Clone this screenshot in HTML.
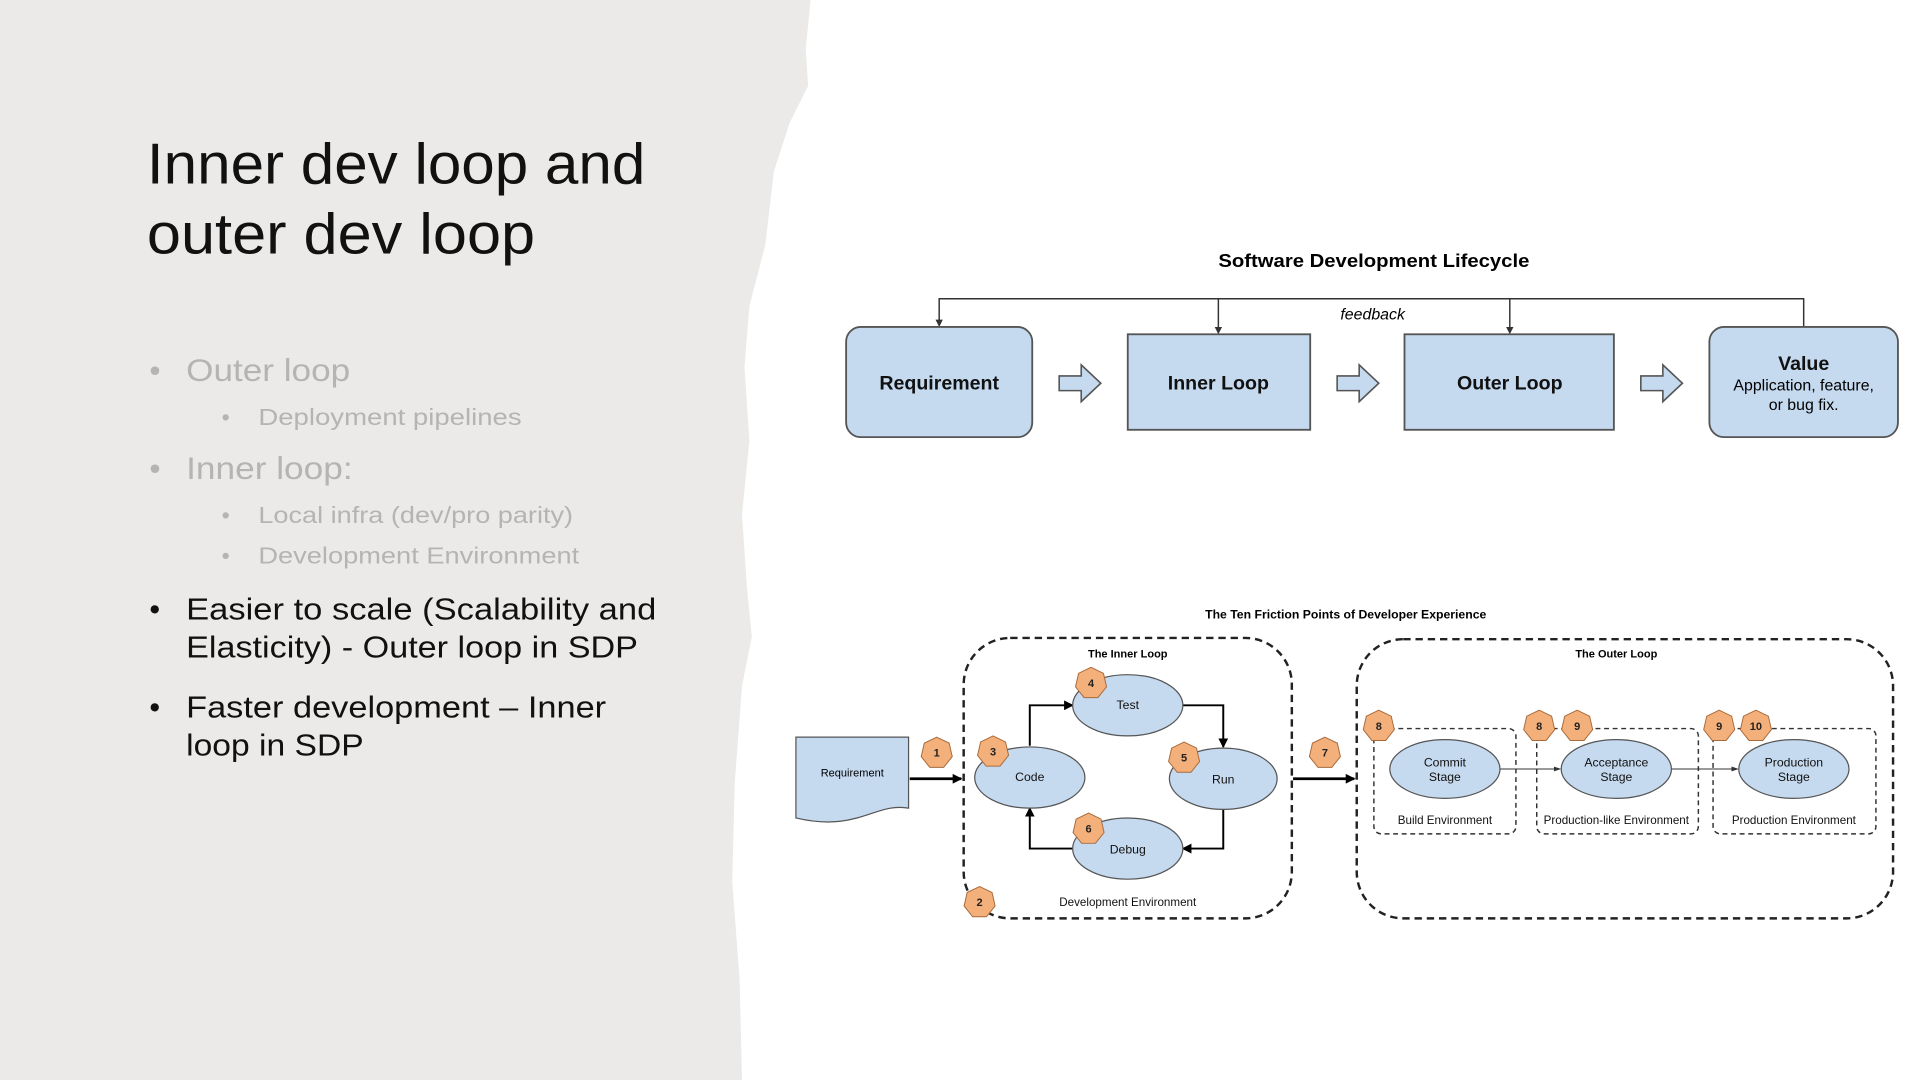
<!DOCTYPE html>
<html><head><meta charset="utf-8"><style>
html,body{margin:0;padding:0;background:#fff;width:1920px;height:1080px;overflow:hidden}
svg{display:block}
</style></head><body>
<svg width="1920" height="1080" viewBox="0 0 1568 882" xmlns="http://www.w3.org/2000/svg">
<defs>
<polygon id="hx" points="0,-13 10.16,-8.11 12.67,2.89 5.64,11.71 -5.64,11.71 -12.67,2.89 -10.16,-8.11" fill="#f4b07a" stroke="#a86a3a" stroke-width="0.8"/>
<marker id="ah" markerWidth="8" markerHeight="8" refX="7" refY="4" orient="auto" markerUnits="userSpaceOnUse"><path d="M0,0 L8,4 L0,8 z" fill="#000"/></marker>
<marker id="ahs" markerWidth="6" markerHeight="6" refX="5" refY="3" orient="auto" markerUnits="userSpaceOnUse"><path d="M0,1 L6,3 L0,5 z" fill="#333"/></marker>
</defs>
<rect width="1568" height="882" fill="#fff"/>
<path d="M0,0 L662,0 L658,40 L660,70 L645,100 L632,140 L625,200 L612,250 L608,300 L612,360 L606,420 L610,480 L614,520 L606,560 L600,640 L598,720 L604,800 L606,882 L0,882 z" fill="#ebeae8"/>
<g font-family="Liberation Sans, sans-serif">
<text x="120" y="150" font-size="47" fill="#111" textLength="407" lengthAdjust="spacingAndGlyphs">Inner dev loop and</text>
<text x="120" y="207" font-size="47" fill="#111" textLength="317" lengthAdjust="spacingAndGlyphs">outer dev loop</text>
<g fill="#b4b4b4" lengthAdjust="spacingAndGlyphs">
<text x="122" y="311" font-size="26">•</text><text x="152" y="311" font-size="26" textLength="134" lengthAdjust="spacingAndGlyphs">Outer loop</text>
<text x="181" y="347" font-size="19">•</text><text x="211" y="347" font-size="19" textLength="215" lengthAdjust="spacingAndGlyphs">Deployment pipelines</text>
<text x="122" y="391" font-size="26">•</text><text x="152" y="391" font-size="26" textLength="136" lengthAdjust="spacingAndGlyphs">Inner loop:</text>
<text x="181" y="427" font-size="19">•</text><text x="211" y="427" font-size="19" textLength="257" lengthAdjust="spacingAndGlyphs">Local infra (dev/pro parity)</text>
<text x="181" y="460" font-size="19">•</text><text x="211" y="460" font-size="19" textLength="262" lengthAdjust="spacingAndGlyphs">Development Environment</text>
</g>
<g fill="#111" font-size="25">
<text x="122" y="506">•</text><text x="152" y="506" textLength="384" lengthAdjust="spacingAndGlyphs">Easier to scale (Scalability and</text>
<text x="152" y="537" textLength="369" lengthAdjust="spacingAndGlyphs">Elasticity) - Outer loop in SDP</text>
<text x="122" y="586">•</text><text x="152" y="586" textLength="343" lengthAdjust="spacingAndGlyphs">Faster development – Inner</text>
<text x="152" y="617" textLength="145" lengthAdjust="spacingAndGlyphs">loop in SDP</text>
</g>

<text x="995" y="218" font-size="15" font-weight="bold" textLength="254" lengthAdjust="spacingAndGlyphs">Software Development Lifecycle</text>
<g stroke="#333" stroke-width="1.2" fill="none">
<path d="M767,266 L767,244 L1473,244 L1473,267"/>
<path d="M995,244 L995,271"/><path d="M1233,244 L1233,271"/>
</g>
<g fill="#333"><path d="M764,261 L770,261 L767,267z"/><path d="M992,267 L998,267 L995,273z"/><path d="M1230,267 L1236,267 L1233,273z"/></g>
<text x="1121" y="261" font-size="13" font-style="italic" text-anchor="middle">feedback</text>
<g fill="#c5d9ef" stroke="#555" stroke-width="1.5">
<rect x="691" y="267" width="152" height="90" rx="12"/>
<rect x="921" y="273" width="149" height="78"/>
<rect x="1147" y="273" width="171" height="78"/>
<rect x="1396" y="267" width="154" height="90" rx="12"/>
</g>
<g font-size="16" font-weight="bold" text-anchor="middle" fill="#111">
<text x="767" y="318">Requirement</text>
<text x="995" y="318">Inner Loop</text>
<text x="1233" y="318">Outer Loop</text>
<text x="1473" y="302">Value</text>
</g>
<text x="1473" y="319" font-size="13" text-anchor="middle">Application, feature,</text>
<text x="1473" y="335" font-size="13" text-anchor="middle">or bug fix.</text>
<g fill="#c5d9ef" stroke="#555" stroke-width="1.3">
<path d="M865,307 L883,307 L883,298 L899,313 L883,328 L883,319 L865,319z"/>
<path d="M1092,307 L1110,307 L1110,298 L1126,313 L1110,328 L1110,319 L1092,319z"/>
<path d="M1340,307 L1358,307 L1358,298 L1374,313 L1358,328 L1358,319 L1340,319z"/>
</g>

<text x="1099" y="505" font-size="10" font-weight="bold" text-anchor="middle">The Ten Friction Points of Developer Experience</text>
<g fill="none" stroke="#222" stroke-width="2" stroke-dasharray="6,4">
<rect x="787" y="521" width="268" height="229" rx="38"/>
<rect x="1108" y="522" width="438" height="228" rx="38"/>
</g>
<g fill="none" stroke="#333" stroke-width="1.2" stroke-dasharray="4,3">
<rect x="1122" y="595" width="116" height="86" rx="6"/>
<rect x="1255" y="595" width="132" height="86" rx="6"/>
<rect x="1399" y="595" width="133" height="86" rx="6"/>
</g>
<text x="921" y="537" font-size="9" font-weight="bold" text-anchor="middle">The Inner Loop</text>
<text x="1320" y="537" font-size="9" font-weight="bold" text-anchor="middle">The Outer Loop</text>
<path d="M650,602 L742,602 L742,660 C715,655 700,680 650,668 z" fill="#c5d9ef" stroke="#555" stroke-width="1"/>
<text x="696" y="634" font-size="9" text-anchor="middle">Requirement</text>
<g stroke="#000" stroke-width="2.2" fill="none">
<path d="M743,636 L785,636" marker-end="url(#ah)"/>
<path d="M1056,636 L1106,636" marker-end="url(#ah)"/>
</g>
<g stroke="#000" stroke-width="1.6" fill="none">
<path d="M841,609 L841,576 L876,576" marker-end="url(#ah)"/>
<path d="M966,576 L999,576 L999,610" marker-end="url(#ah)"/>
<path d="M999,661 L999,693 L966,693" marker-end="url(#ah)"/>
<path d="M877,693 L841,693 L841,660" marker-end="url(#ah)"/>
</g>
<g stroke="#333" stroke-width="0.8" fill="none">
<path d="M1225,628 L1274,628" marker-end="url(#ahs)"/>
<path d="M1365,628 L1419,628" marker-end="url(#ahs)"/>
</g>
<g fill="#c5d9ef" stroke="#555" stroke-width="1">
<ellipse cx="921" cy="576" rx="45" ry="25"/>
<ellipse cx="841" cy="635" rx="45" ry="25"/>
<ellipse cx="999" cy="636" rx="44" ry="25"/>
<ellipse cx="921" cy="693" rx="45" ry="25"/>
<ellipse cx="1180" cy="628" rx="45" ry="24"/>
<ellipse cx="1320" cy="628" rx="45" ry="24"/>
<ellipse cx="1465" cy="628" rx="45" ry="24"/>
</g>
<g font-size="10" text-anchor="middle" fill="#111">
<text x="921" y="579">Test</text><text x="841" y="638">Code</text><text x="999" y="640">Run</text><text x="921" y="697">Debug</text>
<text x="1180" y="626">Commit</text><text x="1180" y="638">Stage</text>
<text x="1320" y="626">Acceptance</text><text x="1320" y="638">Stage</text>
<text x="1465" y="626">Production</text><text x="1465" y="638">Stage</text>
<text x="921" y="740" font-size="9.5">Development Environment</text>
<text x="1180" y="673" font-size="9.5">Build Environment</text>
<text x="1320" y="673" font-size="9.5">Production-like Environment</text>
<text x="1465" y="673" font-size="9.5">Production Environment</text>
</g>
<use href="#hx" x="765" y="615"/><use href="#hx" x="811" y="614"/><use href="#hx" x="891" y="558"/>
<use href="#hx" x="967" y="619"/><use href="#hx" x="889" y="677"/><use href="#hx" x="800" y="737"/>
<use href="#hx" x="1082" y="615"/><use href="#hx" x="1126" y="593"/><use href="#hx" x="1257" y="593"/>
<use href="#hx" x="1288" y="593"/><use href="#hx" x="1404" y="593"/><use href="#hx" x="1434" y="593"/>
<g font-size="9" font-weight="bold" text-anchor="middle" fill="#222">
<text x="765" y="618">1</text><text x="811" y="617">3</text><text x="891" y="561">4</text>
<text x="967" y="622">5</text><text x="889" y="680">6</text><text x="800" y="740">2</text>
<text x="1082" y="618">7</text><text x="1126" y="596">8</text><text x="1257" y="596">8</text>
<text x="1288" y="596">9</text><text x="1404" y="596">9</text><text x="1434" y="596">10</text>
</g>
</g>
</svg>
</body></html>
